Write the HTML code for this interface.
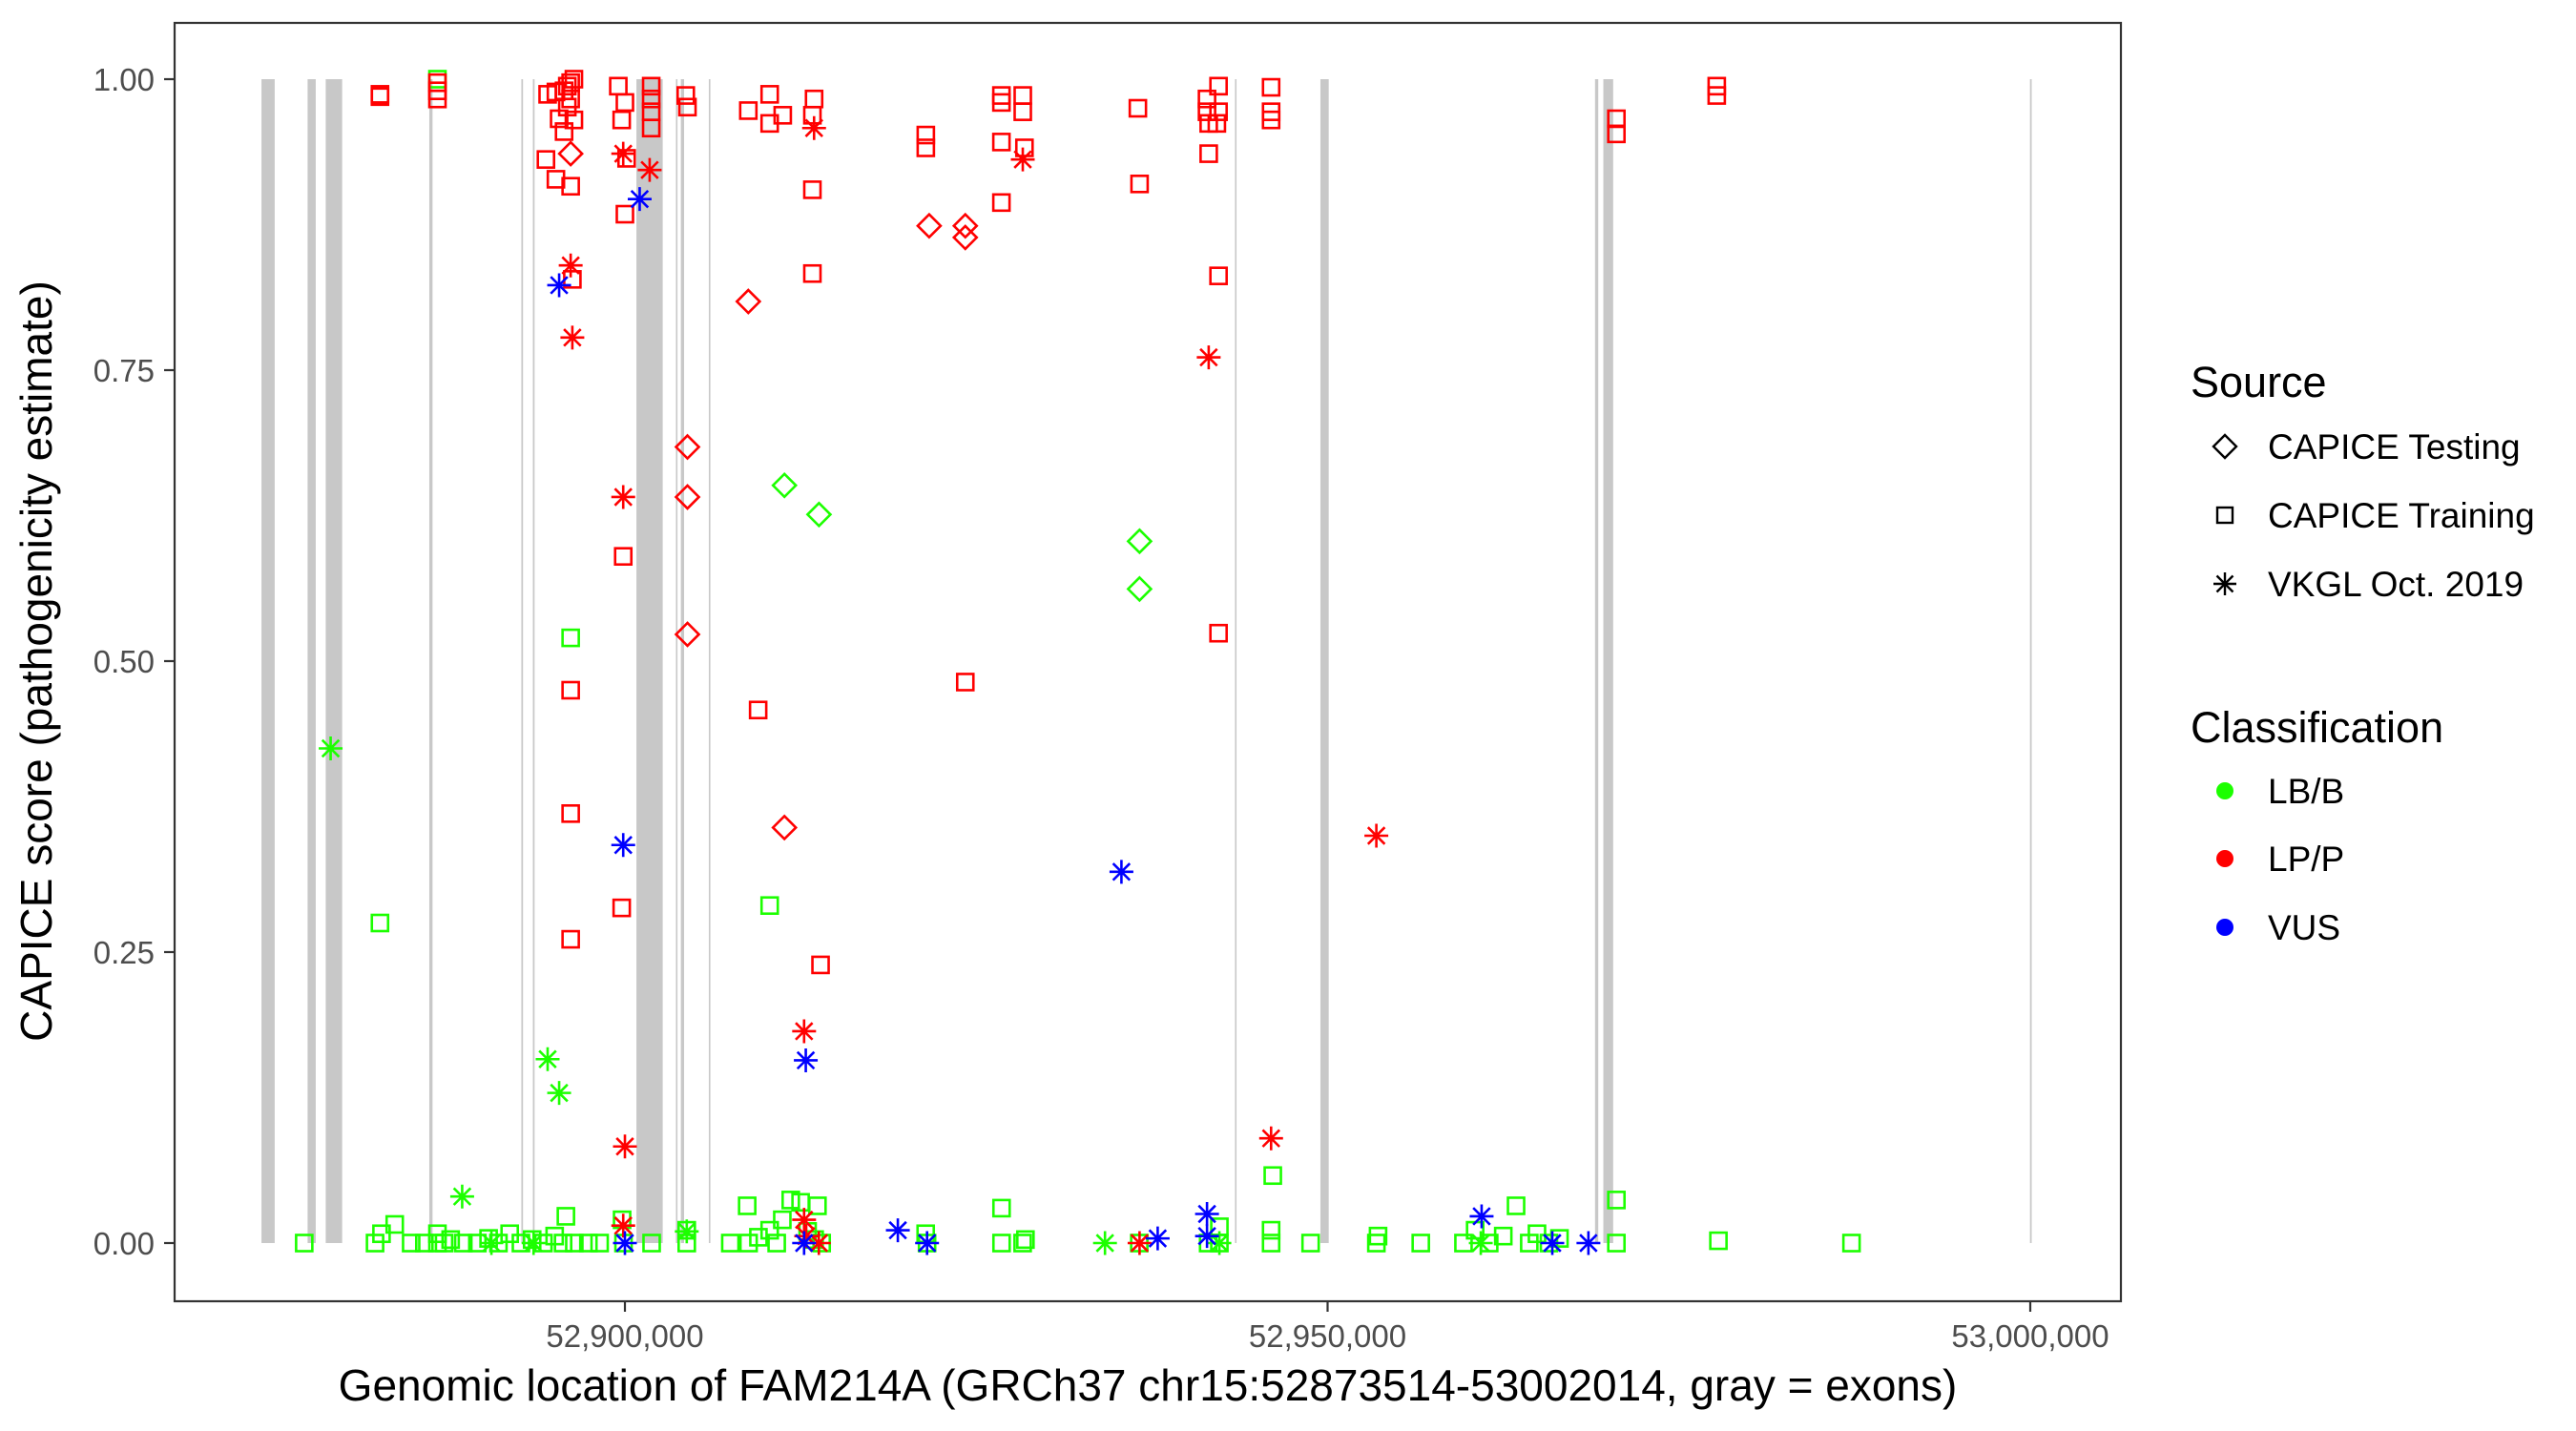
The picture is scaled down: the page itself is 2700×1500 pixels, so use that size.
<!DOCTYPE html>
<html><head><meta charset="utf-8"><style>
html,body{margin:0;padding:0;background:#fff;}
svg{display:block;font-family:"Liberation Sans",Arial,sans-serif;}
</style></head><body>
<svg id="chart" width="2700" height="1500" viewBox="0 0 2700 1500" xmlns="http://www.w3.org/2000/svg">
<rect x="0" y="0" width="2700" height="1500" fill="#fff"/>
<g id="exons"></g>
<g id="pts"></g>
<rect x="183" y="24" width="2040" height="1340" fill="none" stroke="#333" stroke-width="2.2"/>
<g id="axes"></g>
<text transform="translate(54,693) rotate(-90)" text-anchor="middle" font-size="46" fill="#000">CAPICE score (pathogenicity estimate)</text>
<text x="1203" y="1468" text-anchor="middle" font-size="46" fill="#000">Genomic location of FAM214A (GRCh37 chr15:52873514-53002014, gray = exons)</text>
<g font-size="37" fill="#000">
<text x="2296" y="416" font-size="45">Source</text>
<polygon points="2332,456 2344,468 2332,480 2320,468" fill="none" stroke="#000" stroke-width="2.4"/>
<text x="2377" y="481">CAPICE Testing</text>
<rect x="2324" y="532" width="16" height="16" fill="none" stroke="#000" stroke-width="2.4"/>
<text x="2377" y="553">CAPICE Training</text>
<g stroke="#000" stroke-width="2.4">
<line x1="2320" y1="612" x2="2344" y2="612"/><line x1="2332" y1="600" x2="2332" y2="624"/>
<line x1="2323.5" y1="603.5" x2="2340.5" y2="620.5"/><line x1="2323.5" y1="620.5" x2="2340.5" y2="603.5"/></g>
<text x="2377" y="625">VKGL Oct. 2019</text>
<text x="2296" y="778" font-size="45">Classification</text>
<circle cx="2332" cy="829" r="9" fill="#1cff00"/>
<text x="2377" y="842">LB/B</text>
<circle cx="2332" cy="900" r="9" fill="#ff0000"/>
<text x="2377" y="913">LP/P</text>
<circle cx="2332" cy="972" r="9" fill="#0000ff"/>
<text x="2377" y="985">VUS</text>
</g>
</svg>
<script>
const exonStart=[52874.14,52877.42,52878.71,52886.08,52892.63,52893.45,52900.82,52903.63,52903.98,52905.97,52943.41,52949.49,52969.03,52969.62,52999.98];
const exonEnd  =[52875.08,52878.00,52879.88,52886.31,52892.75,52893.57,52902.69,52903.74,52904.21,52906.08,52943.52,52950.08,52969.26,52970.32,53000.10];
const xTicks=[52900,52950,53000];
const xTickLabels=["52,900,000","52,950,000","53,000,000"];
const yTicks=[0,0.25,0.5,0.75,1];
const yTickLabels=["0.00","0.25","0.50","0.75","1.00"];
// LB/B
const lbPos=[52882.57,52896.14,52910.30,52946.10,52886.66,
52877.18,52882.22,52882.68,52883.62,52884.79,52885.73,52886.66,52886.66,52887.13,52887.6,52888.5,52889.5,52890.3,52891.0,52891.8,52892.6,52893.4,52894.2,52895.0,52895.8,52895.6,52896.4,52897.4,52898.2,52899.8,52899.9,52901.9,52904.4,52904.4,52907.5,52908.7,52908.8,52909.5,52910.3,52910.8,52911.2,52911.8,52912.5,52913.0,52913.7,52913.5,52914.0,52921.4,52921.5,52926.8,52926.8,52928.3,52928.5,52936.6,52941.5,52942.3,52942.3,52945.98,52945.98,52948.79,52953.47,52953.59,52956.63,52959.67,52960.5,52961.5,52962.5,52963.41,52964.35,52964.9,52965.75,52966.5,52970.55,52970.55,52977.81,52987.28,
52879.06,52894.50,52895.32,52888.42,52890.5,52893.5,52904.4,52934.16,52960.9,52942.3,
52911.35,52913.81,52936.62,52936.62];
const lbScore=[0.275,0.52,0.29,0.058,1.0,
0,0,0.008,0.016,0,0,0.008,0,0,0.003,0,0,0.004,0,0.008,0,0.003,0,0.006,0.023,0,0,0,0,0.02,0,0,0,0.011,0,0.032,0,0.005,0.011,0,0.02,0.037,0.035,0.01,0.032,0.003,0,0.008,0,0.03,0,0,0.003,0,0,0.014,0,0,0.011,0,0,0.006,0,0,0.011,0,0.006,0.032,0,0.008,0,0.004,0.037,0,0.002,0,
0.425,0.158,0.129,0.04,0,0,0.01,0,0,0,
0.651,0.626,0.603,0.562];
const lbSrc=("s".repeat(76)+"a".repeat(10)+"d".repeat(4)).split("");
// LP/P
const lpPos=[52882.57,52882.57,52886.66,52886.66,52886.66,52894.50,52895.09,52895.67,52895.90,52896.14,52896.37,52896.14,52895.90,52895.32,52896.37,52895.67,52894.38,52895.09,52896.14,52896.26,52896.14,52896.14,52896.14,52899.53,52900.00,52899.77,52900.12,52900.00,52899.88,52899.77,52901.87,52901.87,52901.87,52901.87,52904.33,52904.45,52908.78,52910.30,52910.30,52911.23,52913.46,52913.34,52913.34,52913.34,52913.92,52909.48,52921.41,52921.41,52924.22,52926.79,52926.79,52928.31,52928.31,52928.43,52926.79,52926.79,52936.50,52936.62,52941.42,52941.42,52941.54,52942.24,52942.24,52942.12,52941.54,52942.24,52942.24,52945.98,52945.98,52945.98,52970.55,52970.55,52977.69,52977.69,
52896.14,52904.45,52904.45,52904.45,52908.78,52911.35,52921.65,52924.22,52924.22,
52896.14,52896.26,52899.88,52901.76,52899.88,52900.00,52913.46,52912.75,52928.31,52941.54,52945.98,52953.47,52899.88,52912.75,52913.8,52936.62,52912.9];
const lpScore=[0.985,0.987,0.997,0.99,0.983,0.987,0.989,0.99,0.994,0.997,1.0,0.983,0.976,0.966,0.965,0.955,0.931,0.914,0.908,0.828,0.475,0.369,0.261,0.994,0.98,0.965,0.932,0.884,0.59,0.288,0.994,0.983,0.972,0.958,0.986,0.976,0.973,0.987,0.962,0.969,0.983,0.969,0.905,0.833,0.239,0.458,0.952,0.941,0.482,0.986,0.98,0.986,0.972,0.941,0.946,0.894,0.975,0.91,0.983,0.972,0.962,0.994,0.972,0.962,0.936,0.831,0.524,0.993,0.972,0.965,0.966,0.953,0.994,0.986,
0.936,0.684,0.641,0.523,0.809,0.357,0.874,0.874,0.864,
0.84,0.778,0.936,0.922,0.641,0.083,0.958,0.182,0.931,0.761,0.09,0.35,0.015,0.02,0,0,0.006];
const lpSrc=("s".repeat(74)+"d".repeat(9)+"a".repeat(17)).split("");
// VUS
const vusPos=[52895.32,52901.05,52899.88,52935.33,52912.87,52900.0,52912.75,52919.42,52921.5,52937.91,52941.42,52941.42,52960.96,52965.99,52968.56];
const vusScore=[0.823,0.897,0.342,0.319,0.157,0,0,0.011,0,0.004,0.025,0.006,0.023,0,0];
const vusSrc="aaaaaaaaaaaaaaa".split("");

const NS="http://www.w3.org/2000/svg";
function xs(kb){return 655+(kb-52900)*14.73;}
function ys(s){return 1303-s*1220;}
function mk(tag,attrs,parent){const e=document.createElementNS(NS,tag);for(const k in attrs)e.setAttribute(k,attrs[k]);parent.appendChild(e);return e;}
const gEx=document.getElementById('exons');
for(let i=0;i<exonStart.length;i++){
  const x1=xs(exonStart[i]),x2=xs(exonEnd[i]);
  const r=mk('rect',{x:x1,y:ys(1),width:Math.max(1.5,x2-x1),height:ys(0)-ys(1),fill:'#c8c8c8'},gEx);
  
  
}
const gP=document.getElementById('pts');
function drawPt(kb,s,shape,col){
  const x=xs(kb),y=ys(s);let e;
  if(shape==='s'){e=mk('rect',{x:x-8.5,y:y-8.5,width:17,height:17,fill:'none',stroke:col,'stroke-width':2.6},gP);}
  else if(shape==='d'){e=mk('polygon',{points:`${x},${y-12} ${x+12},${y} ${x},${y+12} ${x-12},${y}`,fill:'none',stroke:col,'stroke-width':2.6},gP);}
  else{const r=12.5,d=8.8;e=mk('path',{d:`M${x-r},${y}H${x+r}M${x},${y-r}V${y+r}M${x-d},${y-d}L${x+d},${y+d}M${x-d},${y+d}L${x+d},${y-d}`,fill:'none',stroke:col,'stroke-width':2.6},gP);}
  
  
}
for(let i=0;i<lbPos.length;i++)drawPt(lbPos[i],lbScore[i],lbSrc[i],'#1cff00');
for(let i=0;i<lpPos.length;i++)drawPt(lpPos[i],lpScore[i],lpSrc[i],'#ff0000');
for(let i=0;i<vusPos.length;i++)drawPt(vusPos[i],vusScore[i],vusSrc[i],'#0000ff');
const gA=document.getElementById('axes');
for(let i=0;i<yTicks.length;i++){
  const y=ys(yTicks[i]);
  const l=mk('line',{x1:172,x2:183,y1:y,y2:y,stroke:'#333','stroke-width':2.2},gA);
  
  
  const t=mk('text',{x:162,y:y+12,'text-anchor':'end','font-size':33,fill:'#4d4d4d'},gA);
  t.textContent=yTickLabels[i];
  
  
}
for(let i=0;i<xTicks.length;i++){
  const x=xs(xTicks[i]);
  const l=mk('line',{x1:x,x2:x,y1:1364,y2:1375,stroke:'#333','stroke-width':2.2},gA);
  
  
  const t=mk('text',{x:x,y:1412,'text-anchor':'middle','font-size':33,fill:'#4d4d4d'},gA);
  t.textContent=xTickLabels[i];
  
  
}
</script>
</body></html>
